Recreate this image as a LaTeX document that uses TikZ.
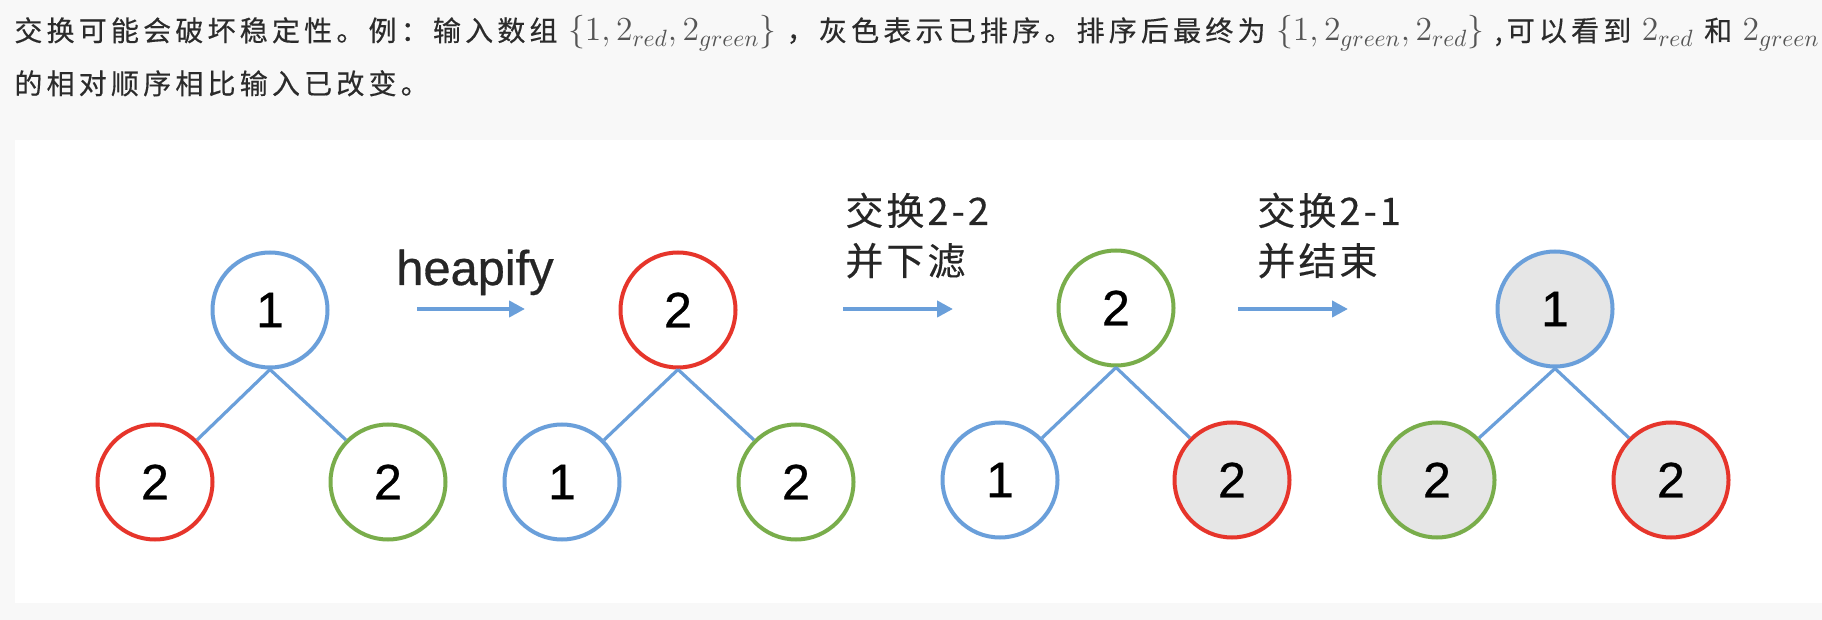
\RequirePackage{fix-cm}
\documentclass[tikz,border=0pt]{standalone}
\usepackage{fontspec}
\setmainfont{Liberation Sans}
\newfontfamily\numfont{Liberation Sans}[FakeBold=0.6]
\newfontfamily\cjk{Noto Sans CJK SC}[LetterSpace=15, FakeBold=0.4]
\newfontfamily\cjklbl{Noto Sans CJK SC}[LetterSpace=8, FakeBold=0.4]
\usepackage{xcolor}
\usepackage{tikz}
\usetikzlibrary{arrows.meta}
\definecolor{hblue}{HTML}{6A9FDA}
\definecolor{hred}{HTML}{E6352B}
\definecolor{hgreen}{HTML}{79AD4B}
\definecolor{done}{HTML}{E6E6E6}
\definecolor{pagebg}{HTML}{F8F8F8}
\definecolor{ink}{HTML}{2B2B2B}
\definecolor{mathgray}{HTML}{555555}
\newcommand{\mth}[1]{{\fontsize{16.8}{19}\selectfont\color{mathgray}$#1$}}

\begin{document}
\begin{tikzpicture}[x=0.5pt, y=-0.5pt]
    \tikzset{N/.style={circle, draw, line width=2pt, minimum size=57.5pt, inner sep=0pt,
                       text=black, font=\numfont\fontsize{25}{30}\selectfont},
             B/.style={N, draw=hblue}, R/.style={N, draw=hred}, G/.style={N, draw=hgreen},
             D/.style={fill=done},
             E/.style={draw=hblue, line width=1.6pt},
             A/.style={draw=hblue, line width=2pt, -{Triangle[length=8pt, width=8pt]}},
             lbl/.style={anchor=base west, inner sep=0pt, align=left, text=black!85,
                         font=\cjklbl\fontsize{19}{25}\selectfont},
             top/.style={anchor=base west, inner sep=0pt, text=ink,
                         font=\cjk\fontsize{14}{16}\selectfont}}
    \useasboundingbox (0,0) rectangle (1822,620);
    \fill[pagebg] (0,0) rectangle (1822,620);
    \fill[white] (15,140) rectangle (1822,603);
    % text above the panel
    \node[top] (line1) at (14,41)
      {交换可能会破坏稳定性。例：输入数组 \mth{\{1,2_{red},2_{green}\}} ，灰色表示已排序。排序后最终为 \mth{\{1,2_{green},2_{red}\}} ,可以看到 \mth{2_{red}} 和 \mth{2_{green}}};
    \node[top] (line2) at (14,94) {的相对顺序相比输入已改变。};
    % input
    \node[B] (t1) at (270,310) {1};
    \node[R] (t1l) at (155,482) {2};
    \node[G] (t1r) at (388,482) {2};
    \draw[E] (t1.south) -- (t1l.45);
    \draw[E] (t1.south) -- (t1r.135);
    \coordinate (a1) at (417,309);
    \coordinate (b1) at (525,309);
    \draw[A] (a1) -- (b1);
    \node[anchor=base, inner sep=0pt, text=black!85, font=\numfont\fontsize{24.4}{29}\selectfont] (hp) at (475,285) {heapify};
    % after heapify
    \node[R] (t2) at (678,310) {2};
    \node[B] (t2l) at (562,482) {1};
    \node[G] (t2r) at (796,482) {2};
    \draw[E] (t2.south) -- (t2l.45);
    \draw[E] (t2.south) -- (t2r.135);
    \coordinate (a2) at (843,309);
    \coordinate (b2) at (953,309);
    \draw[A] (a2) -- (b2);
    \node[lbl] (sw1) at (845,275) {交换2-2\\并下滤};
    % after first swap
    \node[G] (t3) at (1116,308) {2};
    \node[B] (t3l) at (1000,480) {1};
    \node[R, D] (t3r) at (1232,480) {2};
    \draw[E] (t3.south) -- (t3l.45);
    \draw[E] (t3.south) -- (t3r.135);
    \coordinate (a3) at (1238,309);
    \coordinate (b3) at (1348,309);
    \draw[A] (a3) -- (b3);
    \node[lbl] (sw2) at (1257,275) {交换2-1\\并结束};
    % sorted
    \node[B, D] (t4) at (1555,309) {1};
    \node[G, D] (t4l) at (1437,480) {2};
    \node[R, D] (t4r) at (1671,480) {2};
    \draw[E] (t4.south) -- (t4l.45);
    \draw[E] (t4.south) -- (t4r.135);
\end{tikzpicture}
\end{document}
